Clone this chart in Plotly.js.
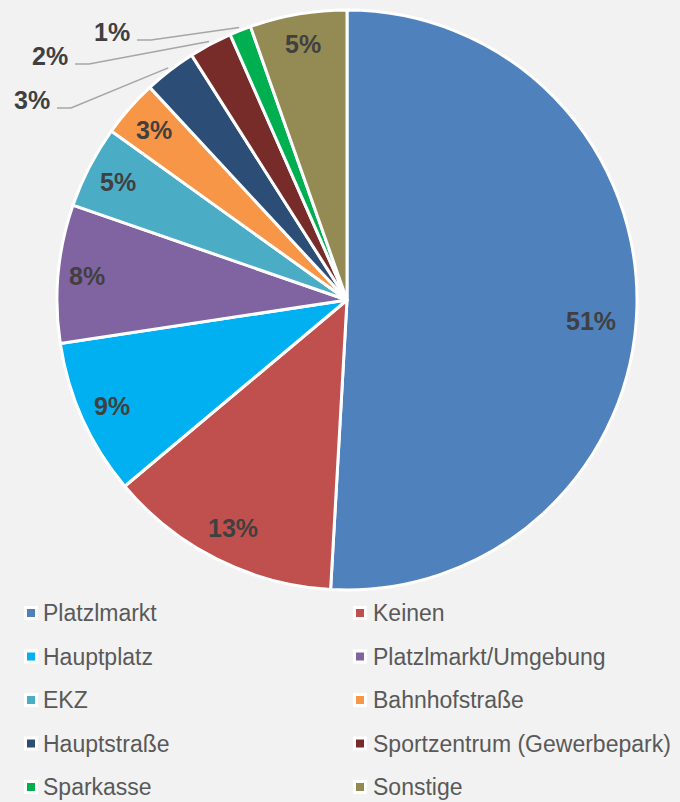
<!DOCTYPE html>
<html>
<head>
<meta charset="utf-8">
<script src="https://cdn.plot.ly/plotly-3.0.1.min.js"></script>
<style>html,body{margin:0;padding:0;background:#f2f2f2;}</style>
</head>
<body>
<div id="chart" style="width:680px;height:802px;"></div>
<script>
const categories = ["Platzlmarkt", "Keinen", "Hauptplatz", "Platzlmarkt/Umgebung", "EKZ",
  "Bahnhofstraße", "Hauptstraße", "Sportzentrum (Gewerbepark)", "Sparkasse", "Sonstige"];
const values = [50.9, 13.0, 8.7, 7.7, 4.6, 3.2, 2.9, 2.4, 1.2, 5.4];
const colors = ["#4F81BD", "#C0504D", "#00B0F0", "#8064A2", "#4BACC6",
  "#F79646", "#2C4D75", "#772C2A", "#00B050", "#948A54"];
const outsideIdx = [6, 7, 8];
// label anchor positions (px) for outside labels, by slice index
const outsideLabelPos = {6: [32, 100], 7: [50, 56], 8: [112, 32]};
// small pixel nudges for inside labels (style only)
const labelNudge = {0: [-11, 14]};

const W = 680, H = 802;
const cx = 347, cy = 300, R = 290;
const px = x => x / W;
const py = y => 1 - y / H;

const total = values.reduce((a, b) => a + b, 0);
const fam = "Arial, 'Liberation Sans', sans-serif";
const labelFont = {family: fam, size: 25, color: "#404040", weight: "bold"};

const annotations = [];
const shapes = [];
let cum = 0;
values.forEach((v, i) => {
  const frac = v / total;
  const mid = (cum + frac / 2) * 2 * Math.PI;
  cum += frac;
  const txt = Math.round(frac * 100) + "%";
  const s = Math.sin(mid), c = Math.cos(mid);
  if (outsideIdx.includes(i)) {
    const [lx, ly] = outsideLabelPos[i];
    const ex = cx + 293 * s, ey = cy - 293 * c;
    const lineY = ly + 8;
    const x0 = lx + 25, x1 = lx + 39;
    shapes.push({
      type: "path", xref: "paper", yref: "paper",
      path: `M ${px(x0)},${py(lineY)} L ${px(x1)},${py(lineY)} L ${px(ex)},${py(ey)}`,
      line: {color: "#a6a6a6", width: 1.5}
    });
    annotations.push({
      xref: "paper", yref: "paper", x: px(lx), y: py(ly), text: "<b>" + txt + "</b>",
      showarrow: false, xanchor: "center", yanchor: "middle", font: labelFont
    });
  } else {
    const w = txt.length * 13, h = 26;
    const r = R - 15 - (Math.abs(s) * w / 2 + Math.abs(c) * h / 2);
    const nd = labelNudge[i] || [0, 0];
    annotations.push({
      xref: "paper", yref: "paper", x: px(cx + r * s + nd[0]), y: py(cy - r * c + nd[1]),
      text: "<b>" + txt + "</b>",
      showarrow: false, xanchor: "center", yanchor: "middle", font: labelFont
    });
  }
});

// legend: two columns, built from categories and colors
categories.forEach((name, i) => {
  const col = i % 2, row = Math.floor(i / 2);
  const yc = 613 + row * 43.5;
  const mx = col ? 360 : 31;
  const tx = col ? 371 : 41;
  shapes.push({
    type: "rect", xref: "paper", yref: "paper",
    x0: px(mx - 7), x1: px(mx + 7), y0: py(yc + 7), y1: py(yc - 7),
    fillcolor: "#ffffff", line: {width: 0}
  });
  shapes.push({
    type: "rect", xref: "paper", yref: "paper",
    x0: px(mx - 4), x1: px(mx + 4), y0: py(yc + 4), y1: py(yc - 4),
    fillcolor: colors[i], line: {width: 0}
  });
  annotations.push({
    xref: "paper", yref: "paper", x: px(tx), y: py(yc), text: name,
    showarrow: false, xanchor: "left", yanchor: "middle",
    font: {family: fam, size: 23, color: "#595959"}
  });
});

const data = [{
  type: "pie",
  labels: categories,
  values: values,
  sort: false,
  direction: "clockwise",
  rotation: 0,
  marker: {colors: colors, line: {color: "#ffffff", width: 3}},
  textinfo: "none",
  hoverinfo: "label+percent",
  domain: {x: [px(cx - R), px(cx + R)], y: [py(cy + R), py(cy - R)]},
  showlegend: false
}];

const layout = {
  width: W, height: H,
  paper_bgcolor: "#f2f2f2",
  plot_bgcolor: "#f2f2f2",
  margin: {l: 0, r: 0, t: 0, b: 0},
  showlegend: false,
  annotations: annotations,
  shapes: shapes
};

Plotly.newPlot("chart", data, layout, {displayModeBar: false, staticPlot: true});
</script>
</body>
</html>
